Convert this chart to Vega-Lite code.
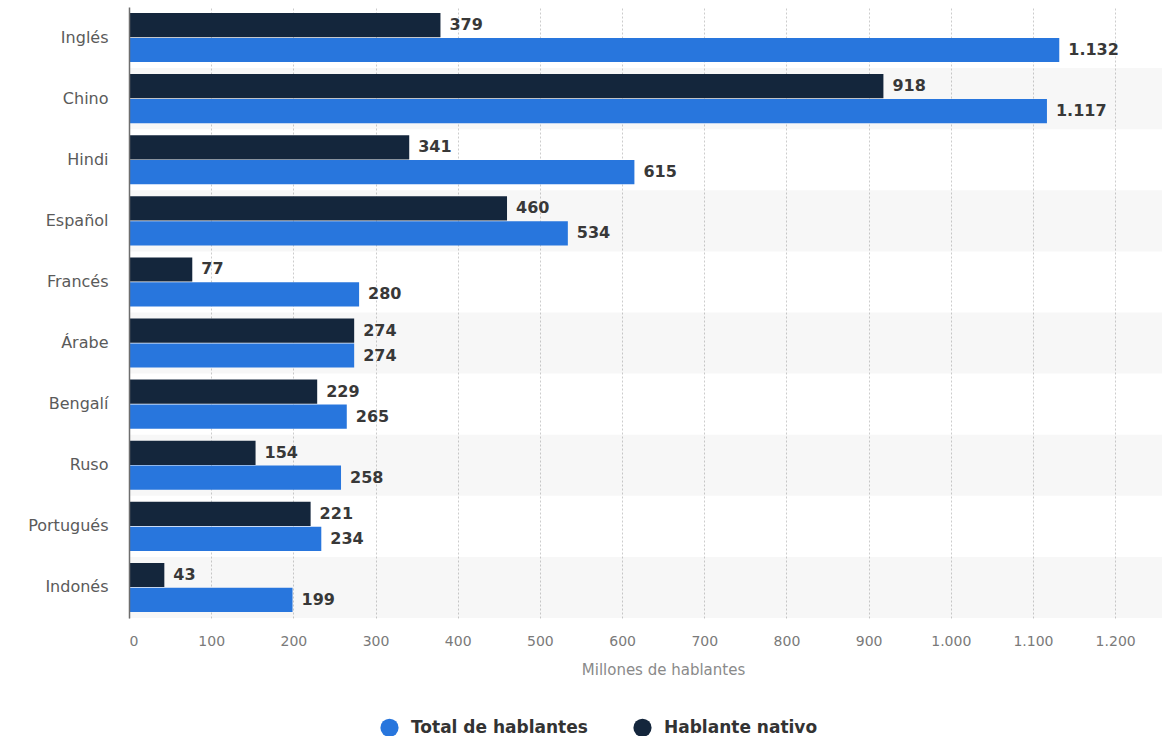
{
  "$schema": "https://vega.github.io/schema/vega-lite/v6.json",
  "width": 1033,
  "height": 611,
  "autosize": {"type": "none"},
  "padding": {"left": 129, "top": 7, "right": 3, "bottom": 118},
  "background": "#ffffff",
  "data": {
    "values": [
      {"lengua": "Inglés", "serie": "Hablante nativo", "valor": 379},
      {"lengua": "Inglés", "serie": "Total de hablantes", "valor": 1132},
      {"lengua": "Chino", "serie": "Hablante nativo", "valor": 918},
      {"lengua": "Chino", "serie": "Total de hablantes", "valor": 1117},
      {"lengua": "Hindi", "serie": "Hablante nativo", "valor": 341},
      {"lengua": "Hindi", "serie": "Total de hablantes", "valor": 615},
      {"lengua": "Español", "serie": "Hablante nativo", "valor": 460},
      {"lengua": "Español", "serie": "Total de hablantes", "valor": 534},
      {"lengua": "Francés", "serie": "Hablante nativo", "valor": 77},
      {"lengua": "Francés", "serie": "Total de hablantes", "valor": 280},
      {"lengua": "Árabe", "serie": "Hablante nativo", "valor": 274},
      {"lengua": "Árabe", "serie": "Total de hablantes", "valor": 274},
      {"lengua": "Bengalí", "serie": "Hablante nativo", "valor": 229},
      {"lengua": "Bengalí", "serie": "Total de hablantes", "valor": 265},
      {"lengua": "Ruso", "serie": "Hablante nativo", "valor": 154},
      {"lengua": "Ruso", "serie": "Total de hablantes", "valor": 258},
      {"lengua": "Portugués", "serie": "Hablante nativo", "valor": 221},
      {"lengua": "Portugués", "serie": "Total de hablantes", "valor": 234},
      {"lengua": "Indonés", "serie": "Hablante nativo", "valor": 43},
      {"lengua": "Indonés", "serie": "Total de hablantes", "valor": 199}
    ]
  },
  "encoding": {
    "y": {
      "field": "lengua",
      "type": "nominal",
      "sort": ["Inglés", "Chino", "Hindi", "Español", "Francés", "Árabe", "Bengalí", "Ruso", "Portugués", "Indonés"],
      "scale": {"paddingInner": 0, "paddingOuter": 0},
      "axis": {
        "title": null,
        "ticks": false,
        "domain": true,
        "domainColor": "#6e6e6e",
        "domainWidth": 1.5,
        "labelFont": "DejaVu Sans",
        "labelFontSize": 16,
        "labelColor": "#5a5a5a",
        "labelPadding": 21,
        "grid": false
      }
    }
  },
  "layer": [
    {
      "transform": [
        {"filter": "datum.serie == 'Total de hablantes'"},
        {"window": [{"op": "row_number", "as": "fila"}]},
        {"filter": "datum.fila % 2 == 0"}
      ],
      "mark": {"type": "rect", "color": "#000000", "opacity": 0.03},
      "encoding": {
        "x": {"datum": 0, "type": "quantitative"},
        "x2": {"datum": 1257}
      }
    },
    {
      "mark": {"type": "bar"},
      "encoding": {
        "x": {
          "field": "valor",
          "type": "quantitative",
          "scale": {"domain": [0, 1257], "nice": false},
          "axis": {
            "title": "Millones de hablantes",
            "values": [0, 100, 200, 300, 400, 500, 600, 700, 800, 900, 1000, 1100, 1200],
            "format": ",d",
            "domain": false,
            "ticks": false,
            "grid": true,
            "gridDash": [2, 2],
            "gridColor": "#cccccc",
            "gridWidth": 1,
            "labelFont": "DejaVu Sans",
            "labelFontSize": 14,
            "labelColor": "#7a7a7a",
            "labelPadding": 16,
            "titleFont": "DejaVu Sans",
            "titleFontSize": 15,
            "titleFontWeight": "normal",
            "titleColor": "#8a8a8a",
            "titlePadding": 14,
            "titleX": 534
          }
        },
        "yOffset": {
          "field": "serie",
          "type": "nominal",
          "sort": ["Hablante nativo", "Total de hablantes"],
          "scale": {"paddingOuter": 0.24, "paddingInner": 0.03}
        },
        "color": {
          "field": "serie",
          "type": "nominal",
          "scale": {
            "domain": ["Total de hablantes", "Hablante nativo"],
            "range": ["#2876dd", "#14263c"]
          },
          "legend": {
            "title": null,
            "orient": "none",
            "direction": "horizontal",
            "legendX": 251,
            "legendY": 711,
            "symbolType": "circle",
            "symbolSize": 330,
            "symbolStrokeWidth": 0,
            "labelFont": "DejaVu Sans",
            "labelFontSize": 17,
            "labelFontWeight": "bold",
            "labelColor": "#333333",
            "labelOffset": 12,
            "labelLimit": 400,
            "columnPadding": 45,
            "padding": 0
          }
        }
      }
    },
    {
      "mark": {
        "type": "text",
        "align": "left",
        "baseline": "middle",
        "dx": 9,
        "font": "DejaVu Sans",
        "fontSize": 16,
        "fontWeight": "bold",
        "color": "#383838"
      },
      "encoding": {
        "x": {"field": "valor", "type": "quantitative"},
        "yOffset": {
          "field": "serie",
          "type": "nominal",
          "sort": ["Hablante nativo", "Total de hablantes"]
        },
        "text": {"field": "valor", "type": "quantitative", "format": ",d"}
      }
    }
  ],
  "config": {
    "locale": {
      "number": {
        "decimal": ",",
        "thousands": ".",
        "grouping": [3],
        "currency": ["", " €"]
      }
    },
    "view": {"stroke": null}
  }
}
